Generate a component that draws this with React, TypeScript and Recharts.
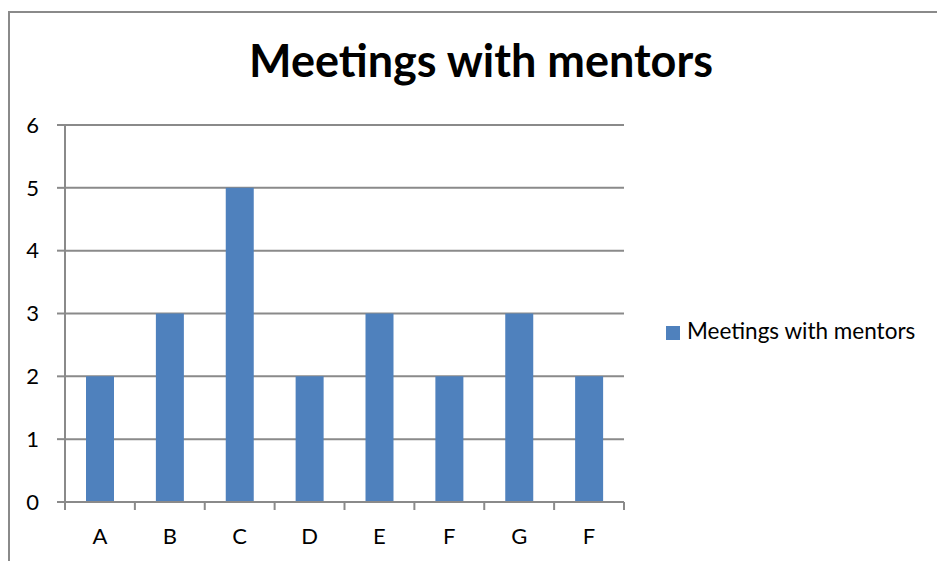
import React from 'react';
import { BarChart, Bar, XAxis, YAxis, CartesianGrid, Legend } from 'recharts';

const categories = ['A', 'B', 'C', 'D', 'E', 'F', 'G', 'F'];
const meetings = [2, 3, 5, 2, 3, 2, 3, 2];
const yTicks = [0, 1, 2, 3, 4, 5, 6];

const data = categories.map((name, i) => ({ id: i, name, meetings: meetings[i] }));

const FONT = 'Lato, "Open Sans", sans-serif';
const GRID = '#8a8a8a';

const CatTick = (props: any) => {
  const { x, y, payload, index } = props;
  const half = payload && payload.offset ? payload.offset : 35;
  return (
    <g>
      <line x1={x - half} x2={x - half} y1={y} y2={y + 8} stroke={GRID} strokeWidth={2} />
      {index === categories.length - 1 && (
        <line x1={x + half} x2={x + half} y1={y} y2={y + 8} stroke={GRID} strokeWidth={2} />
      )}
      <text x={x} y={y + 42} textAnchor="middle" fill="#000" fontSize={22} fontFamily={FONT}>
        {categories[payload.value] ?? payload.value}
      </text>
    </g>
  );
};

export default function App() {
  return (
    <div style={{ position: 'fixed', left: 0, top: 0, width: 937, height: 561, overflow: 'hidden', background: '#fff' }}>
      <div
        style={{
          position: 'absolute', left: 8, top: 11, width: 1000, height: 700,
          borderLeft: `2px solid ${GRID}`, borderTop: `2px solid ${GRID}`,
        }}
      />
      <div
        style={{
          position: 'absolute', left: 0, top: 33, width: 962, textAlign: 'center',
          fontFamily: FONT, fontWeight: 700, fontSize: 45, color: '#000', lineHeight: '54px',
        }}
      >
        Meetings with mentors
      </div>
      <div style={{ position: 'absolute', left: 0, top: 0 }}>
        <BarChart width={937} height={561} data={data} margin={{ top: 125, right: 313, bottom: 0, left: 0 }}>
          <CartesianGrid vertical={false} horizontal stroke={GRID} strokeWidth={2} />
          <XAxis
            dataKey="id"
            type="category"
            height={59}
            tickSize={0}
            tickMargin={0}
            interval={0}
            axisLine={{ stroke: GRID, strokeWidth: 2 }}
            tickLine={false}
            tick={<CatTick />}
          />
          <YAxis
            width={65}
            domain={[0, 6]}
            ticks={yTicks}
            interval={0}
            tickSize={8}
            tickMargin={18}
            axisLine={{ stroke: GRID, strokeWidth: 2 }}
            tickLine={{ stroke: GRID, strokeWidth: 2 }}
            tick={{ fill: '#000', fontSize: 22, fontFamily: FONT }}
          />
          <Bar dataKey="meetings" name="Meetings with mentors" fill="#4f81bd" barSize={28} isAnimationActive={false} />
          <Legend
            layout="vertical"
            align="center"
            verticalAlign="middle"
            iconType="square"
            iconSize={14}
            wrapperStyle={{ position: 'absolute', left: 666, top: 317, width: 270, fontFamily: FONT, fontSize: 22.5 }}
            formatter={(value: string) => <span style={{ color: '#000', marginLeft: 3 }}>{value}</span>}
          />
        </BarChart>
      </div>
    </div>
  );
}
